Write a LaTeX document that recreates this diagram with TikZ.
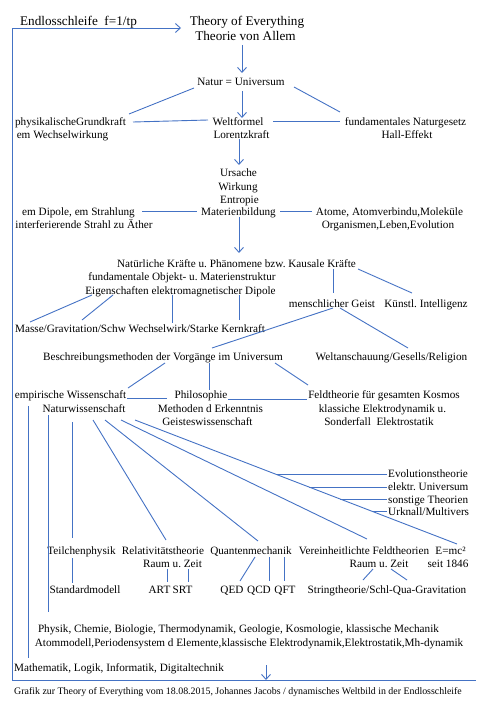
\documentclass[tikz,border=0pt]{standalone}
\usepackage{fontspec}
\setmainfont{Liberation Serif}
\usetikzlibrary{arrows.meta}
\definecolor{lc}{RGB}{68,114,196}
\frenchspacing
\begin{document}
\begin{tikzpicture}[x=1pt,y=-1pt,
  t/.style={inner sep=0pt,anchor=base,font=\fontsize{11.2}{13.4}\selectfont\frenchspacing},
  tw/.style={t,anchor=base west},
  big/.style={inner sep=0pt,anchor=base,font=\fontsize{13.2}{15}\selectfont\frenchspacing},
  capt/.style={inner sep=0pt,anchor=base west,font=\fontsize{9.9}{12}\selectfont\frenchspacing},
  ln/.style={draw=lc,line width=0.9pt},
  ar/.style={ln,-{Straight Barb[length=5pt,width=9pt]}}]
\useasboundingbox (0,0) rectangle (484,706);
% nodes
\node[big] (endl) at (78.5,26) {Endlosschleife\ \ f=1/tp};
\node[big] (toe1) at (247,26) {Theory of Everything};
\node[big] (toe2) at (245.5,41) {Theorie von Allem};
\node[t] (nat) at (241,86) {Natur = Universum};
\node[t] (phys1) at (70.5,125) {physikalischeGrundkraft};
\node[t] (phys2) at (62.5,138) {em Wechselwirkung};
\node[t] (welt1) at (238,125) {Weltformel};
\node[t] (welt2) at (241.5,138) {Lorentzkraft};
\node[t] (fund1) at (405.5,125) {fundamentales Naturgesetz};
\node[t] (fund2) at (407,138) {Hall-Effekt};
\node[t] (urs) at (238.5,176) {Ursache};
\node[t] (wirk) at (238,190) {Wirkung};
\node[t] (entr) at (239.5,203) {Entropie};
\node[t] (mat) at (238.5,215) {Materienbildung};
\node[t] (dip1) at (78.5,215) {em Dipole, em Strahlung};
\node[t] (dip2) at (84,228) {interferierende Strahl zu Äther};
\node[t] (atom1) at (389.5,215) {Atome, Atomverbindu,Moleküle};
\node[t] (atom2) at (388,228) {Organismen,Leben,Evolution};
\node[t] (nk1) at (236.5,267) {Natürliche Kräfte u. Phänomene bzw. Kausale Kräfte};
\node[t] (nk2) at (182,280) {fundamentale Objekt- u. Materienstruktur};
\node[t] (nk3) at (180.5,294) {Eigenschaften elektromagnetischer Dipole};
\node[t] (geist) at (332,307) {menschlicher Geist};
\node[t] (ki) at (426,307) {Künstl. Intelligenz};
\node[t] (masse) at (140,332) {Masse/Gravitation/Schw Wechselwirk/Starke Kernkraft};
\node[t] (besch) at (163,360) {Beschreibungsmethoden der Vorgänge im Universum};
\node[t] (welta) at (391.5,360) {Weltanschauung/Gesells/Religion};
\node[t] (emp1) at (70.5,398) {empirische Wissenschaft};
\node[t] (emp2) at (84,412) {Naturwissenschaft};
\node[t] (phil1) at (201,398) {Philosophie};
\node[t] (phil2) at (210.5,412) {Methoden d Erkenntnis};
\node[t] (phil3) at (207.5,425) {Geisteswissenschaft};
\node[t] (feld1) at (384,398) {Feldtheorie für gesamten Kosmos};
\node[t] (feld2) at (382.5,412) {klassiche Elektrodynamik u.};
\node[t] (feld3) at (379,425) {Sonderfall\ \ Elektrostatik};
\node[tw] (evo) at (388,477) {Evolutionstheorie};
\node[tw] (eu) at (388,490) {elektr. Universum};
\node[tw] (sonst) at (388,503) {sonstige Theorien};
\node[tw] (urk) at (388,515) {Urknall/Multivers};
\node[t] (teil) at (81.5,554) {Teilchenphysik};
\node[t] (rel1) at (163,554) {Relativitätstheorie};
\node[t] (rel2) at (172.5,567) {Raum u. Zeit};
\node[t] (qm) at (251,554) {Quantenmechanik};
\node[t] (ver1) at (364,554) {Vereinheitlichte Feldtheorien};
\node[t] (ver2) at (379,567) {Raum u. Zeit};
\node[t] (emc1) at (450.5,554) {E=mc²};
\node[t] (emc2) at (448,567) {seit 1846};
\node[t] (std) at (85,593) {Standardmodell};
\node[t] (art) at (159.5,593) {ART};
\node[t] (srt) at (182.5,593) {SRT};
\node[t] (qed) at (232,593) {QED};
\node[t] (qcd) at (259,593) {QCD};
\node[t] (qft) at (285,593) {QFT};
\node[t] (string) at (387,593) {Stringtheorie/Schl-Qua-Gravitation};
\node[t] (phy1) at (238.5,632) {Physik, Chemie, Biologie, Thermodynamik, Geologie, Kosmologie, klassische Mechanik};
\node[t] (phy2) at (249,646) {Atommodell,Periodensystem d Elemente,klassische Elektrodynamik,Elektrostatik,Mh-dynamik};
\node[tw] (math) at (14,671) {Mathematik, Logik, Informatik, Digitaltechnik};
\node[capt] (capt) at (14,694) {Grafik zur Theory of Everything vom 18.08.2015, Johannes Jacobs / dynamisches Weltbild in der Endlosschleife};
% loop
\draw[ln] (12,680) -- (12,28);
\draw[ar] (12,28) -- (181,28);
\draw[ln] (12,680) -- (476,680);
\draw[ar] (266,665) -- (266,680);
% connectors
\draw[ar] (242,45) -- (242,73);
\draw[ln] (194,88) -- (129,114);
\draw[ln] (294,87) -- (340,112);
\draw[ar] (242,91) -- (242,118);
\draw[ln] (133,122) -- (208,120);
\draw[ln] (273,121) -- (340,121);
\draw[ar] (239,139) -- (239,165);
\draw[ln] (142,211) -- (197,211);
\draw[ln] (280,211) -- (312,211);
\draw[ar] (239,217) -- (239,253);
\draw[ln] (92,295) -- (30,322);
\draw[ln] (113,295) -- (82,320);
\draw[ln] (172,295) -- (172,323);
\draw[ln] (239,295) -- (239,320);
\draw[ln] (333,269) -- (333,293);
\draw[ln] (358,269) -- (412,293);
\draw[ln] (333,308) -- (212,348);
\draw[ln] (340,308) -- (408,348);
\draw[ln] (165,363) -- (128,388);
\draw[ln] (209,363) -- (209,390);
\draw[ln] (275,363) -- (308,385);
\draw[ln] (127,398) -- (167,398);
\draw[ln] (228,399) -- (307,399);
\draw[ln] (28,406) -- (28,658);
\draw[ln] (48,415) -- (48,612);
\draw[ln] (72,422) -- (72,538);
\draw[ln] (93,420) -- (166,540);
\draw[ln] (105,420) -- (258,541);
\draw[ln] (121,420) -- (367,539);
\draw[ln] (135,420) -- (457,544);
\draw[ln] (277,474) -- (387,474);
\draw[ln] (309,487) -- (387,487);
\draw[ln] (340,499) -- (387,499);
\draw[ln] (373,511) -- (387,511);
\draw[ln] (72,558) -- (72,583);
\draw[ln] (167,569) -- (167,582);
\draw[ln] (188,569) -- (188,582);
\draw[ln] (255,557) -- (240,581);
\draw[ln] (269,557) -- (269,581);
\draw[ln] (284,557) -- (284,581);
\draw[ln] (373,569) -- (363,580);
\draw[ln] (391,569) -- (407,580);
\end{tikzpicture}
\end{document}
